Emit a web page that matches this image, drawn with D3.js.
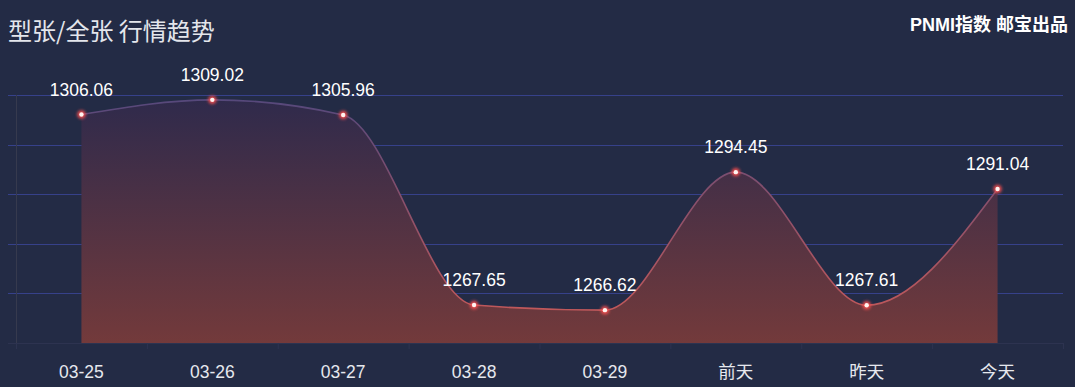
<!DOCTYPE html>
<html><head><meta charset="utf-8">
<script src="https://cdn.jsdelivr.net/npm/d3@7"></script>
<style>
html,body{margin:0;padding:0;background:#ffffff;}
svg{display:block;}
</style></head>
<body>
<svg id="c" width="1080" height="392"></svg>
<script>
const categories = ["03-25","03-26","03-27","03-28","03-29","前天","昨天","今天"];
const values = [1306.06,1309.02,1305.96,1267.65,1266.62,1294.45,1267.61,1291.04];
const yTicks = [1260,1270,1280,1290,1300,1310];
const titleText = "型张/全张 行情趋势";
const brandText = "PNMI指数 邮宝出品";

(function(){
const svg = d3.select("#c");
const W = 1075, H = 387;
const pL = 16, pR = 1063, pT = 95, pB = 343;
svg.append("rect").attr("x",0).attr("y",0).attr("width",W).attr("height",H).attr("fill","#232b45");

const defs = svg.append("defs");
const ga = defs.append("linearGradient").attr("id","ga").attr("gradientUnits","userSpaceOnUse")
  .attr("x1",0).attr("y1",pT).attr("x2",0).attr("y2",pB);
ga.append("stop").attr("offset","0%").attr("stop-color","#2e2a4c");
ga.append("stop").attr("offset","100%").attr("stop-color","#733a3b");
const gl = defs.append("linearGradient").attr("id","gl").attr("gradientUnits","userSpaceOnUse")
  .attr("x1",0).attr("y1",pT).attr("x2",0).attr("y2",pB);
gl.append("stop").attr("offset","0%").attr("stop-color","#54487c");
gl.append("stop").attr("offset","100%").attr("stop-color","#d05a55");
const glow = defs.append("filter").attr("id","glow").attr("x","-100%").attr("y","-100%").attr("width","300%").attr("height","300%");
glow.append("feGaussianBlur").attr("stdDeviation",1.6);

const x = d3.scalePoint().domain(categories).range([pL,pR]).padding(0.5);
const xb = d3.scaleBand().domain(categories).range([pL,pR]);
const y = d3.scaleLinear().domain([1260,1310]).range([pB,pT]);

// grid
svg.append("g").selectAll("line").data(yTicks.slice(1)).join("line")
  .attr("x1",8).attr("x2",pR).attr("y1",d=>Math.round(y(d))+0.5).attr("y2",d=>Math.round(y(d))+0.5)
  .attr("stroke","#36418a").attr("stroke-width",1);

// y axis line (faint)
svg.append("line").attr("x1",pL+0.5).attr("x2",pL+0.5).attr("y1",pT).attr("y2",pB)
  .attr("stroke","#363a4e").attr("stroke-width",1);

const data = categories.map((c,i)=>({c,v:values[i]}));
const area = d3.area().x(d=>x(d.c)).y0(pB).y1(d=>y(d.v)).curve(d3.curveMonotoneX);
const line = d3.line().x(d=>x(d.c)).y(d=>y(d.v)).curve(d3.curveMonotoneX);
svg.append("path").datum(data).attr("d",area).attr("fill","url(#ga)");
svg.append("path").datum(data).attr("d",line).attr("fill","none").attr("stroke","url(#gl)").attr("stroke-width",1.6);

// x axis
svg.append("line").attr("x1",8).attr("x2",pR).attr("y1",pB+0.5).attr("y2",pB+0.5)
  .attr("stroke","#2d3350").attr("stroke-width",1);
svg.append("g").selectAll("line").data(categories.concat(["end"])).join("line")
  .attr("x1",(d,i)=>pL+i*xb.step()+0.5).attr("x2",(d,i)=>pL+i*xb.step()+0.5)
  .attr("y1",pB).attr("y2",pB+6).attr("stroke","#2d3350");
svg.append("g").selectAll("text").data(categories).join("text")
  .attr("x",d=>x(d)).attr("y",378).attr("text-anchor","middle")
  .attr("font-family","'Liberation Sans','Noto Sans CJK SC',Arial,sans-serif").attr("font-size",17.5)
  .attr("fill","#e6e8ee").text(d=>d);

// points
const pts = svg.append("g");
pts.selectAll("circle.g").data(data).join("circle").attr("class","g")
  .attr("cx",d=>x(d.c)).attr("cy",d=>y(d.v)).attr("r",4.2).attr("fill","#ff4f4f").attr("opacity",0.9).attr("filter","url(#glow)");
pts.selectAll("circle.w").data(data).join("circle").attr("class","w")
  .attr("cx",d=>x(d.c)).attr("cy",d=>y(d.v)).attr("r",2.2).attr("fill","#fff4f0");

// labels
svg.append("g").selectAll("text").data(data).join("text")
  .attr("x",d=>x(d.c)).attr("y",d=>y(d.v)-19).attr("text-anchor","middle")
  .attr("font-family","'Liberation Sans',Arial,sans-serif").attr("font-size",17.5)
  .attr("fill","#ffffff").text(d=>d.v.toFixed(2));

// title
svg.append("text").attr("x",8).attr("y",40).attr("font-family","'Noto Sans CJK SC',sans-serif")
  .attr("font-size",24).attr("fill","#e4e6ec").text(titleText);
svg.append("text").attr("x",1068).attr("y",31).attr("text-anchor","end")
  .attr("font-family","'Liberation Sans','Noto Sans CJK SC',sans-serif").attr("font-weight","bold")
  .attr("font-size",18).attr("fill","#ffffff").text(brandText);
})();
</script>
</body></html>
